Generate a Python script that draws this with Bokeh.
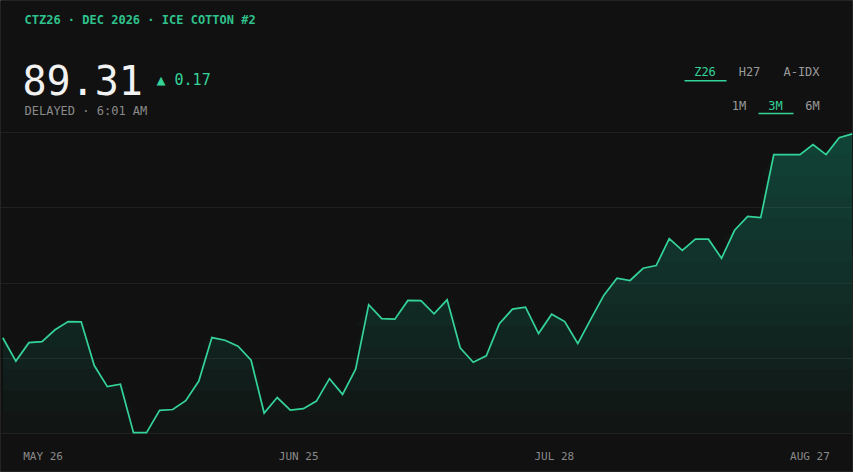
from bokeh.plotting import figure
from bokeh.models import Range1d, FixedTicker, Grid
from bokeh.core.properties import value
from bokeh.embed import file_html
from bokeh.resources import INLINE

# ---------------- data ----------------
title_text = "CTZ26 · DEC 2026 · ICE COTTON #2"
last_price = "89.31"
change_text = "▲ 0.17"
status_text = "DELAYED · 6:01 AM"
contracts = ["Z26", "H27", "A-IDX"]
active_contract = "Z26"
periods = ["1M", "3M", "6M"]
active_period = "3M"
date_labels = ["MAY 26", "JUN 25", "JUL 28", "AUG 27"]
prices = [
    80.13, 79.08, 79.91, 79.96, 80.49, 80.86, 80.85, 78.88, 77.93, 78.04,
    75.86, 75.86, 76.86, 76.90, 77.30, 78.18, 80.14, 80.02, 79.75, 79.12,
    76.74, 77.44, 76.87, 76.94, 77.28, 78.29, 77.58, 78.72, 81.62, 80.99,
    80.97, 81.81, 81.80, 81.21, 81.84, 79.68, 79.03, 79.32, 80.76, 81.42,
    81.51, 80.32, 81.19, 80.86, 79.87, 80.97, 82.05, 82.81, 82.71, 83.26,
    83.38, 84.59, 84.07, 84.57, 84.57, 83.71, 84.97, 85.60, 85.54, 88.38,
    88.38, 88.38, 88.83, 88.38, 89.14, 89.31,
]
days = list(range(len(prices)))

# ---------------- style / layout ----------------
BG = "#111111"
GREEN = "#34d399"
FILLC = "#1ad6a8"
GRID = "#202020"
GRAY = "#8a8a8a"
TAB = "#9a9a9a"
MONO = "DejaVu Sans Mono"
W, H = 853, 472

# chart area in canvas pixels
X0, X1 = 2.3, 851.7       # first / last day
YT, YB = 132.3, 433.0     # top / bottom of the price band

pmin = min(prices) - 0.04
pmax = max(prices) + 0.05

# pixel-space ranges (y flipped so that y grows downwards)
p = figure(width=W, height=H, output_backend="svg", toolbar_location=None,
           x_range=Range1d(0, W), y_range=Range1d(H, 0),
           x_axis_location=None, y_axis_location=None,
           background_fill_color=BG, border_fill_color=BG,
           outline_line_color="#242424", outline_line_width=1,
           min_border=0, min_border_left=0, min_border_right=0,
           min_border_top=0, min_border_bottom=0)
p.grid.visible = False

# data ranges mapped onto the chart band
sx = (X1 - X0) / (days[-1] - days[0])
d_start = days[0] - X0 / sx
p.extra_x_ranges = {"days": Range1d(d_start, d_start + W / sx)}
sy = (pmax - pmin) / (YB - YT)
v_end = pmax + YT * sy
p.extra_y_ranges = {"price": Range1d(v_end - H * sy, v_end)}

grid_ticks = [pmin + k * (pmax - pmin) / 4 for k in range(5)]
p.add_layout(Grid(dimension=1, y_range_name="price",
                  ticker=FixedTicker(ticks=grid_ticks),
                  grid_line_color=GRID, grid_line_width=1))

# gradient fill: stacked translucent layers from each level up to the line
N = 14
a = 1 - (1 - 0.30) ** (1.0 / N)
for i in range(N):
    lo = pmin + (pmax - pmin) * i / N
    top = [max(v, lo) for v in prices]
    p.varea(x=days, y1=[lo] * len(days), y2=top, fill_color=FILLC, fill_alpha=a,
            x_range_name="days", y_range_name="price")

p.line(days, prices, line_color=GREEN, line_width=1.7, line_join="miter",
       x_range_name="days", y_range_name="price")

# date labels at fixed fractions of the span
fracs = [0.05, 0.35, 0.65, 0.95]
d0, d1 = days[0] - X0 / sx, days[0] + (W - 1 - X0) / sx
xt = [d0 + f * (d1 - d0) for f in fracs]
p.text(x=xt, y=[455.6] * len(xt), text=date_labels, x_range_name="days",
       text_font=value(MONO), text_font_size="11px", text_color=GRAY,
       text_align="center", text_baseline="alphabetic")

# ---------------- header texts ----------------
def lab(x, y, text, size, color, align="left", style="normal"):
    p.text(x=[x], y=[y], text=[text], text_font=value(MONO), text_font_size=size,
           text_color=color, text_align=align, text_baseline="alphabetic",
           text_font_style=style)

lab(24, 19.2, title_text, "12px", "#2fc28c", style="bold")
lab(22, 79.5, last_price, "40px", "#f2f2f2")
lab(156, 79.5, change_text, "15px", GREEN)
lab(24, 110.8, status_text, "12px", GRAY)

contract_cx = [704.5, 749, 801]
for cx, c in zip(contract_cx, contracts):
    lab(cx, 71.5, c, "12px", GREEN if c == active_contract else TAB, align="center")
period_cx = [738.5, 775, 812]
for cx, s in zip(period_cx, periods):
    lab(cx, 105.5, s, "12px", GREEN if s == active_period else TAB, align="center")

# active-tab underlines
p.quad(left=[684, 758], right=[726, 793], top=[79.6, 112.3], bottom=[81.0, 113.7],
       fill_color=GREEN, line_color=None)

open("out.html", "w").write(file_html(p, INLINE))
